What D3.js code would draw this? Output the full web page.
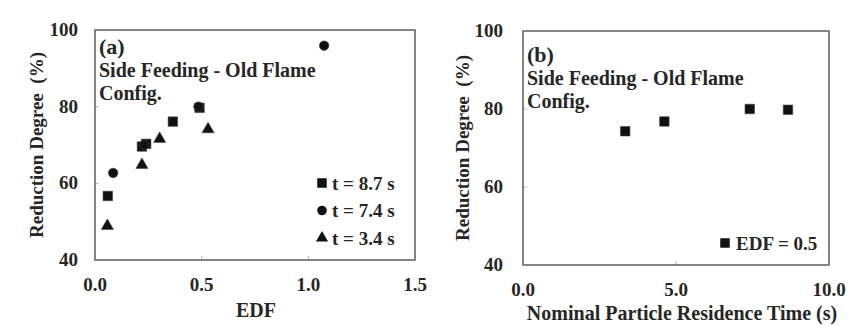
<!DOCTYPE html>
<html>
<head>
<meta charset="utf-8">
<script src="https://cdn.jsdelivr.net/npm/d3@7.9.0/dist/d3.min.js"></script>
<style>
  body { margin: 0; background: #fff; }
</style>
</head>
<body>
<svg id="chart" width="852" height="326"></svg>
<script>
// panel (a): reduction degree vs EDF for three residence times
const seriesA = [
  { label: 't = 8.7 s', symbol: 'square',
    edf: [0.06, 0.22, 0.24, 0.365, 0.49],
    rd:  [56.7, 69.6, 70.3, 76.1, 79.7] },
  { label: 't = 7.4 s', symbol: 'circle',
    edf: [0.085, 0.23, 0.485, 1.074],
    rd:  [62.7, 70.0, 80.0, 95.9] },
  { label: 't = 3.4 s', symbol: 'triangle',
    edf: [0.058, 0.22, 0.303, 0.53],
    rd:  [48.9, 64.8, 71.6, 74.1] }
];

// panel (b): reduction degree vs residence time at EDF = 0.5
const timeB = [3.34, 4.62, 7.41, 8.66];
const rdB = [74.3, 76.8, 80.0, 79.8];

const xTicksA = [0, 0.5, 1.0, 1.5];
const xTicksB = [0, 5, 10];
const yTicks = [40, 60, 80, 100];

const svg = d3.select('#chart');
const symbols = { square: d3.symbolSquare, circle: d3.symbolCircle, triangle: d3.symbolTriangle };
const symSize = { square: 90, circle: 72, triangle: 64 };

function panel(opt) {
  let x = d3.scaleLinear().domain(opt.xDomain).range([opt.left, opt.right]);
  let y = d3.scaleLinear().domain([40, 100]).range([opt.bottom, opt.top]);
  let g = svg.append('g');

  // faint inner ticks
  g.selectAll('.xt').data(opt.xTicks.slice(1, -1)).join('line')
    .attr('x1', d => x(d)).attr('x2', d => x(d))
    .attr('y1', opt.bottom).attr('y2', opt.bottom - 4)
    .attr('stroke', '#bbb');
  g.selectAll('.yt').data(yTicks.slice(1, -1)).join('line')
    .attr('x1', opt.left).attr('x2', opt.left + 4)
    .attr('y1', d => y(d)).attr('y2', d => y(d))
    .attr('stroke', '#bbb');

  g.append('rect')
    .attr('x', opt.left).attr('y', opt.top)
    .attr('width', opt.right - opt.left).attr('height', opt.bottom - opt.top)
    .attr('fill', 'none').attr('stroke', '#666').attr('stroke-width', 1.6);

  g.selectAll('.ytl').data(yTicks).join('text')
    .attr('x', opt.left - opt.yLabGap).attr('y', d => y(d) + 6)
    .attr('text-anchor', 'end').attr('font-size', 19)
    .text(d => d);
  g.selectAll('.xtl').data(opt.xTicks).join('text')
    .attr('x', d => x(d)).attr('y', opt.bottom + 31)
    .attr('text-anchor', 'middle').attr('font-size', 19)
    .text(opt.xFormat);

  g.append('text')
    .attr('transform', `translate(${opt.left - opt.yTitleGap},${(opt.top + opt.bottom) / 2}) rotate(-90)`)
    .attr('text-anchor', 'middle').attr('font-size', 19)
    .attr('xml:space', 'preserve')
    .text('Reduction Degree  (%)');
  g.append('text')
    .attr('x', opt.xTitleX).attr('y', opt.bottom + opt.xTitleGap)
    .attr('text-anchor', 'middle').attr('font-size', 20)
    .text(opt.xTitle);

  g.append('text').attr('x', opt.left + 4).attr('y', opt.top + opt.tag[1])
    .attr('font-size', 22).text(opt.tag[0]);
  g.append('text').attr('x', opt.left + 4).attr('y', opt.top + opt.tag[1] + 23)
    .attr('font-size', 20).text('Side Feeding - Old Flame');
  g.append('text').attr('x', opt.left + 4).attr('y', opt.top + opt.tag[1] + 46)
    .attr('font-size', 20).text('Config.');

  return { x, y, g };
}

// ---- panel (a)
const pa = panel({
  left: 95, right: 415, top: 30, bottom: 260,
  xDomain: [0, 1.5], xTicks: xTicksA, xFormat: d3.format('.1f'),
  xTitle: 'EDF', xTitleX: 256, xTitleGap: 57, tag: ['(a)', 24],
  yLabGap: 17, yTitleGap: 52
});

seriesA.forEach((s, k) => {
  let path = d3.symbol().type(symbols[s.symbol]).size(symSize[s.symbol])();
  pa.g.selectAll('.m' + k).data(d3.zip(s.edf, s.rd)).join('path')
    .attr('d', path)
    .attr('transform', d => `translate(${pa.x(d[0])},${pa.y(d[1])})`)
    .attr('fill', '#111').attr('stroke', '#444').attr('stroke-width', 0.6);

  let ly = 183 + k * 27.5;
  pa.g.append('path').attr('d', path)
    .attr('transform', `translate(322,${ly})`).attr('fill', '#111');
  pa.g.append('text').attr('x', 332).attr('y', ly + 6.5)
    .attr('font-size', 19).text(s.label);
});

// ---- panel (b)
const pb = panel({
  left: 523, right: 829, top: 31, bottom: 265,
  xDomain: [0, 10], xTicks: xTicksB, xFormat: d3.format('.1f'),
  xTitle: 'Nominal Particle Residence Time (s)', xTitleX: 682, xTitleGap: 55, tag: ['(b)', 31],
  yLabGap: 20, yTitleGap: 54
});

const sq = d3.symbol().type(d3.symbolSquare).size(90)();
pb.g.selectAll('.mb').data(d3.zip(timeB, rdB)).join('path')
  .attr('d', sq)
  .attr('transform', d => `translate(${pb.x(d[0])},${pb.y(d[1])})`)
  .attr('fill', '#111').attr('stroke', '#444').attr('stroke-width', 0.6);
pb.g.append('path').attr('d', sq).attr('transform', 'translate(725,243)').attr('fill', '#111');
pb.g.append('text').attr('x', 736).attr('y', 249.5).attr('font-size', 19).text('EDF = 0.5');

svg.selectAll('text')
  .attr('font-family', 'Liberation Serif')
  .attr('font-weight', 'bold')
  .attr('fill', '#262626');
</script>
</body>
</html>
